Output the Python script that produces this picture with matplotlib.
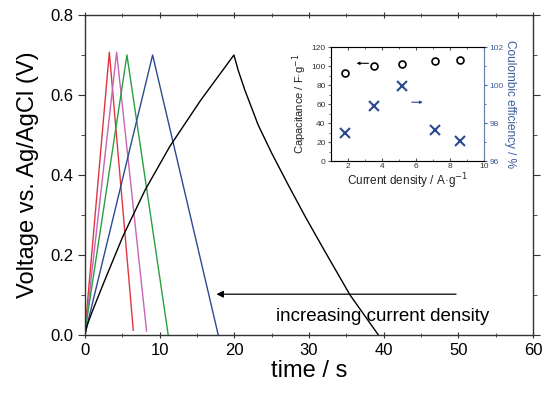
import matplotlib
matplotlib.use("Agg")
import matplotlib.pyplot as plt
from matplotlib.ticker import MultipleLocator

plt.rcParams['font.family'] = ['Liberation Sans', 'DejaVu Sans']

# Galvanostatic charge/discharge curves (time in s, voltage in V)
red_t = [0.0, 0.1, 3.26, 6.47]
red_v = [0.0, 0.03, 0.707, 0.012]
mag_t = [0.0, 0.1, 4.24, 8.25]
mag_v = [0.0, 0.02, 0.707, 0.010]
grn_t = [0.0, 0.1, 5.62, 11.15]
grn_v = [0.0, 0.02, 0.700, 0.0]
blu_t = [0.0, 0.1, 9.06, 17.85]
blu_v = [0.0, 0.01, 0.700, 0.0]
blk_t = [0.0, 0.3, 1.0, 2.5, 5.04, 8.04, 11.38, 15.5, 19.95,
         20.5, 21.4, 23.2, 25.0, 27.2, 29.5, 31.8, 35.5, 39.3]
blk_v = [0.0, 0.025, 0.06, 0.13, 0.245, 0.362, 0.472, 0.587, 0.70,
         0.663, 0.613, 0.525, 0.455, 0.376, 0.296, 0.22, 0.10, 0.0]

# Inset data
cur_density = [1.8, 3.5, 5.2, 7.1, 8.6]
capacitance = [93, 100, 102, 105, 107]
coulombic_eff = [97.5, 98.9, 99.95, 97.65, 97.05]

fig = plt.figure(figsize=(5.5, 3.93), dpi=100)
ax = fig.add_axes([0.1545, 0.1476, 0.8145, 0.8142])

ax.plot(red_t, red_v, color='#e03540', lw=1.0)
ax.plot(mag_t, mag_v, color='#c864b4', lw=1.0)
ax.plot(grn_t, grn_v, color='#28a040', lw=1.0)
ax.plot(blu_t, blu_v, color='#2c4a90', lw=1.0)
ax.plot(blk_t, blk_v, color='black', lw=1.0)

ax.set_xlim(0, 60)
ax.set_ylim(0, 0.8)
ax.xaxis.set_major_locator(MultipleLocator(10))
ax.xaxis.set_minor_locator(MultipleLocator(5))
ax.yaxis.set_major_locator(MultipleLocator(0.2))
ax.yaxis.set_minor_locator(MultipleLocator(0.1))
ax.yaxis.set_major_formatter(matplotlib.ticker.FormatStrFormatter('%.1f'))
for s in ax.spines.values():
    s.set_color('#333333')
    s.set_linewidth(1.0)
ax.tick_params(axis='both', which='major', labelsize=12, length=5, color='#333333')
ax.tick_params(axis='both', which='minor', length=3, color='#333333')
ax.tick_params(axis='x', which='both', direction='inout', top=True)
ax.tick_params(axis='y', which='both', direction='out', right=True)
ax.set_xlabel('time / s', fontsize=17, labelpad=1)
ax.set_ylabel('Voltage vs. Ag/AgCl (V)', fontsize=17, labelpad=8)

ax.annotate('', xy=(17.6, 0.102), xytext=(49.7, 0.102),
            arrowprops=dict(arrowstyle='-|>', color='black', lw=0.9,
                            mutation_scale=10, shrinkA=0, shrinkB=0))
ax.text(25.6, 0.035, 'increasing current density', fontsize=13.5, ha='left', va='baseline')

# Inset
ins = fig.add_axes([0.602, 0.590, 0.278, 0.290])
ins.plot(cur_density, capacitance, 'o', mfc='none', mec='black', ms=5, mew=1.2)
ins.set_xlim(1, 10)
ins.set_ylim(0, 120)
ins.xaxis.set_major_locator(MultipleLocator(2))
ins.xaxis.set_minor_locator(MultipleLocator(1))
ins.yaxis.set_major_locator(MultipleLocator(20))
ins.yaxis.set_minor_locator(MultipleLocator(10))
ins.tick_params(axis='both', which='major', labelsize=6, length=2.5, pad=1.5, color='#555555', labelcolor='#333333')
ins.tick_params(axis='both', which='minor', length=1.5, color='#555555')
ins.tick_params(axis='x', which='both', top=True, direction='in')
ins.tick_params(axis='y', which='both', direction='out')
ins.set_xlabel('Current density / A·g$^{-1}$', fontsize=8.5, labelpad=1, color='#222222')
ins.set_ylabel('Capacitance / F·g$^{-1}$', fontsize=8, labelpad=2, color='#222222')
for s in ins.spines.values():
    s.set_color('#888888')
    s.set_linewidth(0.8)
ins.annotate('', xy=(2.5, 103), xytext=(3.2, 103),
             arrowprops=dict(arrowstyle='-|>', color='black', lw=0.8,
                             mutation_scale=4, shrinkA=0, shrinkB=0))

ins2 = ins.twinx()
ins2.plot(cur_density, coulombic_eff, 'x', color='#2c4a8f', ms=7, mew=1.5)
ins2.set_ylim(96, 102)
ins2.yaxis.set_major_locator(MultipleLocator(2))
ins2.yaxis.set_minor_locator(MultipleLocator(1))
ins2.tick_params(axis='y', which='major', labelsize=6, length=2.5, pad=1.5, color='#3a5a9a', labelcolor='#3a5a9a')
ins2.tick_params(axis='y', which='minor', length=1.5, color='#3a5a9a')
ins2.spines['right'].set_color('#6a80b0')
ins2.set_ylabel('Coulombic efficiency / %', fontsize=8.5, color='#3a5a9a', rotation=270, labelpad=9)
ins2.annotate('', xy=(6.4, 99.1), xytext=(5.75, 99.1),
              arrowprops=dict(arrowstyle='-|>', color='#2c4a8f', lw=0.8,
                              mutation_scale=4, shrinkA=0, shrinkB=0))

fig.savefig('out.png', dpi=100)
